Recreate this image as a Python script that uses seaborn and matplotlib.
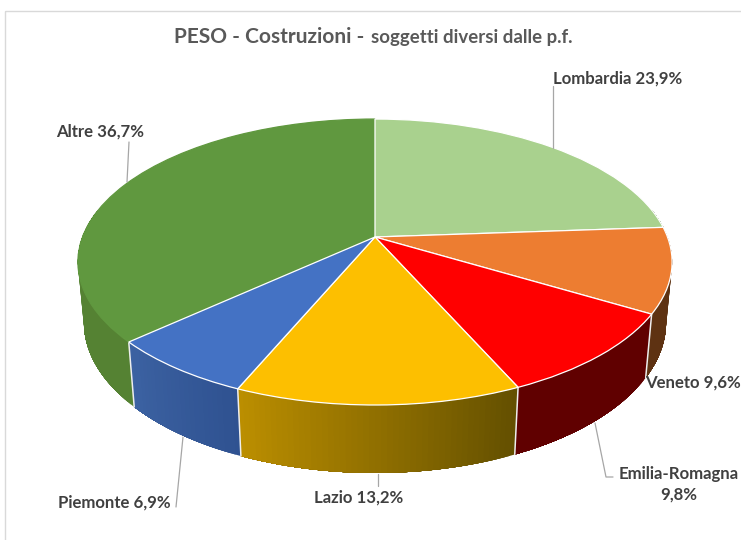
import numpy as np
import matplotlib
matplotlib.use('Agg')
import matplotlib.pyplot as plt
import matplotlib.transforms as mtransforms
from matplotlib.patches import Rectangle
import seaborn as sns

regions = ["Lombardia", "Veneto", "Emilia-Romagna", "Lazio", "Piemonte", "Altre"]
values = [23.9, 9.6, 9.8, 13.2, 6.9, 36.7]
top_colors = ["#a9d18e", "#ed7d31", "#ff0000", "#fdbf00", "#4472c4", "#60983f"]
# wall colours at the start and at the end of each slice (clockwise)
wall_start = ["#6f8f5a", "#5e3212", "#600000", "#645000", "#2f5291", "#558233"]
wall_end = ["#6f8f5a", "#5e3212", "#600000", "#bb8e00", "#3c62a2", "#558233"]

# perspective of the tilted disc, in pixels
CX, CY = 375, 237
A, B, K = 292.5, 138.6, 0.175
DROP_W, DROP_Y = 0.02, 60.8


def project(x, y, low=False):
    w = 1 + K * y + (DROP_W if low else 0)
    px = CX + A * x / w
    py = CY - (B * y - (DROP_Y if low else 0)) / w
    return px, py


class TiltTransform(mtransforms.Transform):
    input_dims = 2
    output_dims = 2
    is_affine = False
    has_inverse = False

    def transform_non_affine(self, values):
        xy = np.asarray(values, dtype=float)
        px, py = project(xy[:, 0], xy[:, 1])
        return np.column_stack([px, py])


sns.set_theme(style="white")
plt.rcParams['font.family'] = ['Lato', 'DejaVu Sans']

fig = plt.figure(figsize=(7.41, 5.40), dpi=100)
ax = fig.add_axes([0, 0, 1, 1])

# walls first, the top of the disc goes over them
edges = np.cumsum([0] + values) / sum(values) * 2 * np.pi
for i in range(len(values)):
    n = max(int((edges[i + 1] - edges[i]) * 60), 2)
    ths = np.linspace(edges[i], edges[i + 1], n + 1)
    cols = sns.blend_palette([wall_start[i], wall_end[i]], n)
    for j in range(n):
        # each strip runs on to the end of the slice so no seams show between strips
        t = np.linspace(ths[j], edges[i + 1], 60)
        t = t[np.cos(t) < 0.2]
        if len(t) < 2:
            continue
        x, y = np.sin(t), np.cos(t)
        px1, py1 = project(x, y)
        px2, py2 = project(x, y, low=True)
        ax.fill(np.r_[px1, px2[::-1]], np.r_[py1, py2[::-1]], color=cols[j], lw=0, zorder=1)
    # white seam where two walls meet
    x0, y0 = np.sin(edges[i]), np.cos(edges[i])
    if y0 < -0.02:
        p1 = project(x0, y0)
        p2 = project(x0, y0, low=True)
        ax.plot([p1[0], p2[0]], [p1[1], p2[1]], color="#eeeeee", lw=1.1, zorder=2)

wedges, _ = ax.pie(values, colors=top_colors, startangle=90, counterclock=False,
                   wedgeprops=dict(edgecolor="white", linewidth=0.9))
tilt = TiltTransform()
for wedge in wedges:
    wedge.set_transform(tilt + ax.transData)
    wedge.set_zorder(3)
# the big green slice has no white rim, its neighbours draw the seams over it
wedges[-1].set_edgecolor(top_colors[-1])
wedges[-1].set_zorder(2.5)

ax.set_aspect('auto')
ax.set_xlim(0, 741)
ax.set_ylim(540, 0)
ax.axis('off')

# chart frame, cut off by the picture on the right and at the bottom
ax.add_patch(Rectangle((4.5, 10.5), 760, 560, fill=False, edgecolor="#d9d9d9", lw=1, zorder=0))

# title
ax.text(174, 37, "PESO - Costruzioni -", fontsize=15, fontweight='bold', color="#595959", va='center', ha='left')
ax.text(371, 38, "soggetti diversi dalle p.f.", fontsize=13.4, fontweight='bold', color="#595959", va='center', ha='left')

# labels
label_color = "#404040"
label_size = 12.1
labels = [f"{n} {v:.1f}%".replace(".", ",") for n, v in zip(regions, values)]
ax.text(553, 79, labels[0], fontsize=label_size, fontweight='bold', color=label_color, va='center', ha='left')
ax.text(645, 383, labels[1], fontsize=label_size, fontweight='bold', color=label_color, va='center', ha='left')
ax.text(679, 484, labels[2].replace(" ", "\n"), fontsize=label_size, fontweight='bold', color=label_color, va='center', ha='center', linespacing=1.35)
ax.text(359, 498, labels[3], fontsize=label_size, fontweight='bold', color=label_color, va='center', ha='center')
ax.text(58, 503, labels[4], fontsize=label_size, fontweight='bold', color=label_color, va='center', ha='left')
ax.text(56, 132, labels[5], fontsize=label_size, fontweight='bold', color=label_color, va='center', ha='left')

# leader lines
leaders = [([553, 553], [86, 148]), ([129, 127], [142, 182]), ([595, 606, 613], [423, 477, 477]),
           ([378, 378], [474, 486]), ([183, 176], [437, 507])]
for lx, ly in leaders:
    ax.plot(lx, ly, color="#a6a6a6", lw=0.9, zorder=4)

fig.savefig("out.png", dpi=100)
